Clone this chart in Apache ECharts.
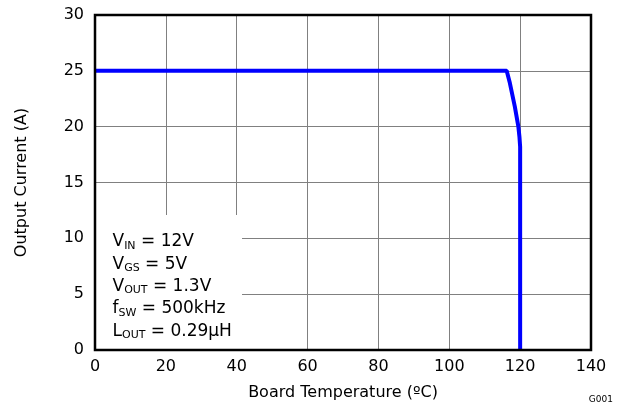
<!DOCTYPE html>
<html><head><meta charset="utf-8">
<script src="https://cdn.jsdelivr.net/npm/echarts@6/dist/echarts.min.js"></script>
<style>html,body{margin:0;padding:0;background:#fff}#c{width:623px;height:406px}</style>
</head><body><div id="c"></div>
<script>
const temperature = [0, 116.2, 117.1, 118.5, 119.5, 119.8, 120, 120];
const current     = [25, 25, 23.9, 21.8, 20, 19.1, 18.2, 0];
const xTicks = [0, 20, 40, 60, 80, 100, 120, 140];
const yTicks = [0, 5, 10, 15, 20, 25, 30];
const noteLines = [
  ['V', 'IN', ' = 12V'],
  ['V', 'GS', ' = 5V'],
  ['V', 'OUT', ' = 1.3V'],
  ['f', 'SW', ' = 500kHz'],
  ['L', 'OUT', ' = 0.29µH']
];
const FONT = 'DejaVu Sans, sans-serif';
const chart = echarts.init(document.getElementById('c'));
const lbl = {fontFamily: FONT, fontSize: 16, color: '#000'};
chart.setOption({
  animation: false,
  grid: {left: 95, right: 32, top: 15, bottom: 55, containLabel: false},
  xAxis: {
    type: 'value', min: xTicks[0], max: xTicks[xTicks.length - 1], interval: xTicks[1] - xTicks[0],
    name: 'Board Temperature (ºC)', nameLocation: 'middle', nameGap: 35,
    nameTextStyle: lbl,
    axisLine: {show: false}, axisTick: {show: false},
    axisLabel: Object.assign({margin: 9}, lbl),
    splitLine: {show: true, lineStyle: {color: '#808080', width: 1}}
  },
  yAxis: {
    type: 'value', min: yTicks[0], max: yTicks[yTicks.length - 1], interval: yTicks[1] - yTicks[0],
    name: 'Output Current (A)', nameLocation: 'middle', nameGap: 65,
    nameTextStyle: lbl,
    axisLine: {show: false}, axisTick: {show: false},
    axisLabel: Object.assign({margin: 11}, lbl),
    splitLine: {show: true, lineStyle: {color: '#808080', width: 1}}
  },
  series: [{
    type: 'line', data: temperature.map((t, i) => [t, current[i]]),
    showSymbol: false, lineStyle: {color: '#0000ff', width: 4}, z: 5
  }]
});
const pa = chart.convertToPixel({xAxisIndex: 0, yAxisIndex: 0}, [xTicks[0], yTicks[yTicks.length - 1]]);
const pb = chart.convertToPixel({xAxisIndex: 0, yAxisIndex: 0}, [xTicks[xTicks.length - 1], yTicks[0]]);
const p0 = chart.convertToPixel({xAxisIndex: 0, yAxisIndex: 0}, [0, 0]);
const p1 = chart.convertToPixel({xAxisIndex: 0, yAxisIndex: 0}, [41.5, 12.1]);
const text = noteLines.map(l => `{m|${l[0]}}{s|${l[1]}}{m|${l[2]}}`).join('\n');
chart.setOption({
  graphic: [
    {type: 'rect', z: 3, shape: {x: p0[0] + 1, y: p1[1], width: p1[0] - p0[0] - 1, height: p0[1] - p1[1] - 1},
     style: {fill: '#fff'}},
    {type: 'text', z: 4, x: p0[0] + 17.5, y: p1[1] + 14,
     style: {text: text, fill: '#000', rich: {
       m: {fontFamily: FONT, fontSize: 17, lineHeight: 22.4, padding: [0, 0, 1, 0], verticalAlign: 'bottom'},
       s: {fontFamily: FONT, fontSize: 11, verticalAlign: 'bottom'}
     }}},
    {type: 'rect', z: 100, shape: {x: pa[0], y: pa[1], width: pb[0] - pa[0], height: pb[1] - pa[1]},
     style: {fill: null, stroke: '#000', lineWidth: 2.5}},
    {type: 'text', x: 613, y: 400, style: {text: 'G001', fontFamily: FONT, fontSize: 9, fill: '#000', align: 'right', verticalAlign: 'middle'}}
  ]
});
</script></body></html>
